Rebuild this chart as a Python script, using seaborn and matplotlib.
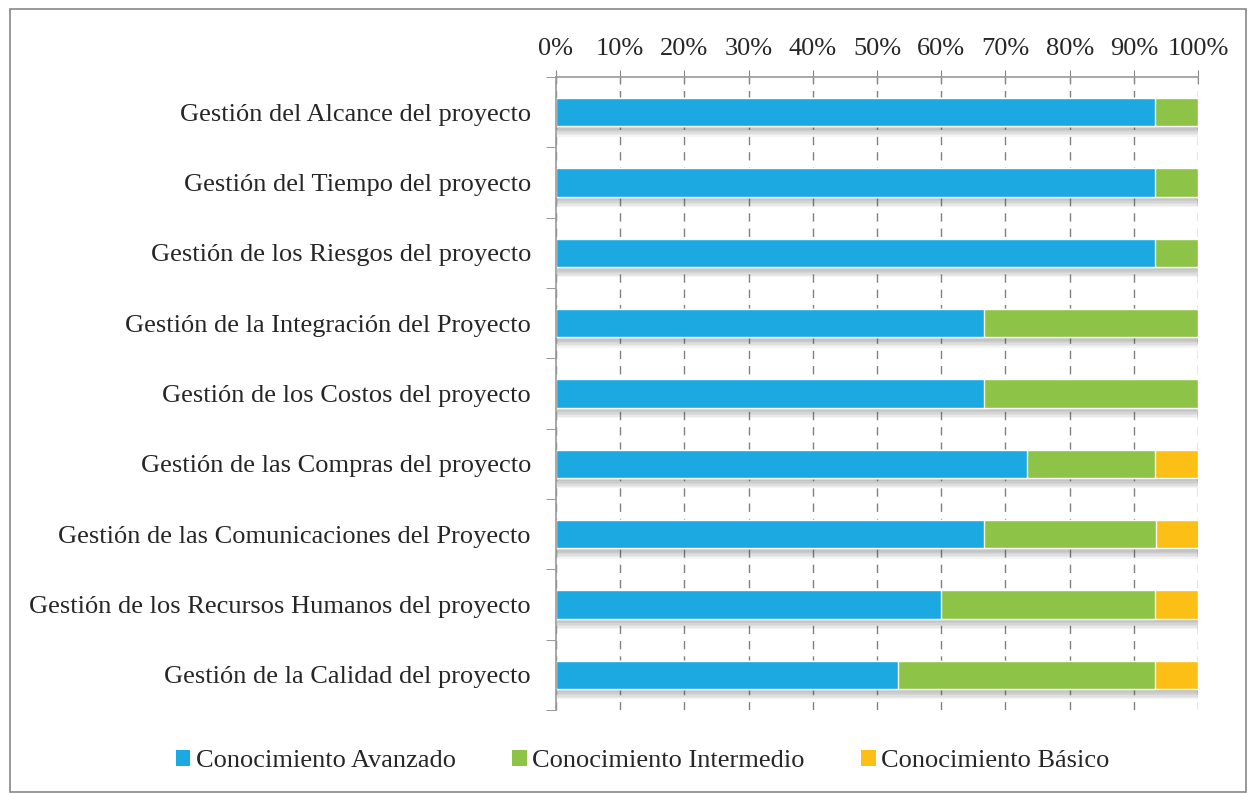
import numpy as np
import pandas as pd
import seaborn as sns
import matplotlib.pyplot as plt
import matplotlib.patheffects as pe
from matplotlib.patches import Rectangle, Patch

categorias = ['Gestión del Alcance del proyecto',
              'Gestión del Tiempo del proyecto',
              'Gestión de los Riesgos del proyecto',
              'Gestión de la Integración del Proyecto',
              'Gestión de los Costos del proyecto',
              'Gestión de las Compras del proyecto',
              'Gestión de las Comunicaciones del Proyecto',
              'Gestión de los Recursos Humanos del proyecto',
              'Gestión de la Calidad del proyecto']
avanzado = [93.3, 93.3, 93.3, 66.7, 66.7, 73.3, 66.7, 60.0, 53.3]
intermedio = [6.7, 6.7, 6.7, 33.3, 33.3, 20.0, 26.7, 33.3, 40.0]
basico = [0.0, 0.0, 0.0, 0.0, 0.0, 6.7, 6.7, 6.7, 6.7]
series = ['Conocimiento Avanzado', 'Conocimiento Intermedio', 'Conocimiento Básico']
colores = ['#1CA9E1', '#8DC447', '#FBBF15']
ticks = [0, 10, 20, 30, 40, 50, 60, 70, 80, 90, 100]

sns.set_style('white')
plt.rcParams['font.family'] = ['Liberation Serif', 'DejaVu Serif']

df = pd.DataFrame({'cat': categorias, 'a': avanzado, 'b': intermedio, 'c': basico})
df['c2'] = df['a'] + df['b']
df['c3'] = df['c2'] + df['c']

fig = plt.figure(figsize=(12.48, 7.93), dpi=100)
ax = fig.add_axes([0.4455, 0.1047, 0.5145, 0.7982])

sns.barplot(data=df, x='c3', y='cat', color=colores[2], width=0.4, saturation=1, ax=ax)
# sombra suave debajo de cada barra
sombra = [pe.SimplePatchShadow(offset=(0.5, -d), shadow_rgbFace='#444444', alpha=0.06)
          for d in (1.5, 2.5, 3.5, 4.5, 5.5, 6.5, 7.5)]
for p in ax.patches:
    p.set_path_effects(sombra + [pe.Normal()])
sns.barplot(data=df, x='c2', y='cat', color=colores[1], width=0.4, saturation=1, ax=ax)
sns.barplot(data=df, x='a', y='cat', color=colores[0], width=0.4, saturation=1, ax=ax)

ax.set_xlim(0, 100)
ax.set_ylim(len(categorias) - 0.5, -0.5)
ax.xaxis.tick_top()
ax.set_xticks(ticks)
ax.set_xticklabels([f'{t}%' for t in ticks], fontsize=19)
ax.tick_params(axis='x', direction='inout', length=10, color='#888888', pad=7)
ax.tick_params(axis='y', length=0, labelsize=19, pad=18)
ax.set_yticks(np.arange(len(categorias) + 1) - 0.5, minor=True)
ax.tick_params(axis='y', which='minor', direction='out', length=7, color='#888888', left=True)
ax.set_xlabel('')
ax.set_ylabel('')
ax.set_axisbelow(True)
ax.grid(axis='x', linestyle=(0, (6, 5)), color='#808080', linewidth=1)

for s in ['right', 'bottom']:
    ax.spines[s].set_visible(False)
for s in ['top', 'left']:
    ax.spines[s].set_color('#999999')
    ax.spines[s].set_linewidth(1.2)

handles = [Patch(facecolor=c, edgecolor='none') for c in colores]
fig.legend(handles, series, loc='center', bbox_to_anchor=(0.515, 0.04), ncol=3, frameon=False,
           fontsize=19, handlelength=0.55, handleheight=0.55, handletextpad=0.2, columnspacing=2.15)

fig.patches.append(Rectangle((0.008, 0.001), 0.99, 0.988, transform=fig.transFigure,
                             fill=False, edgecolor='#888888', linewidth=1.2))

fig.savefig('out.png', dpi=100)
